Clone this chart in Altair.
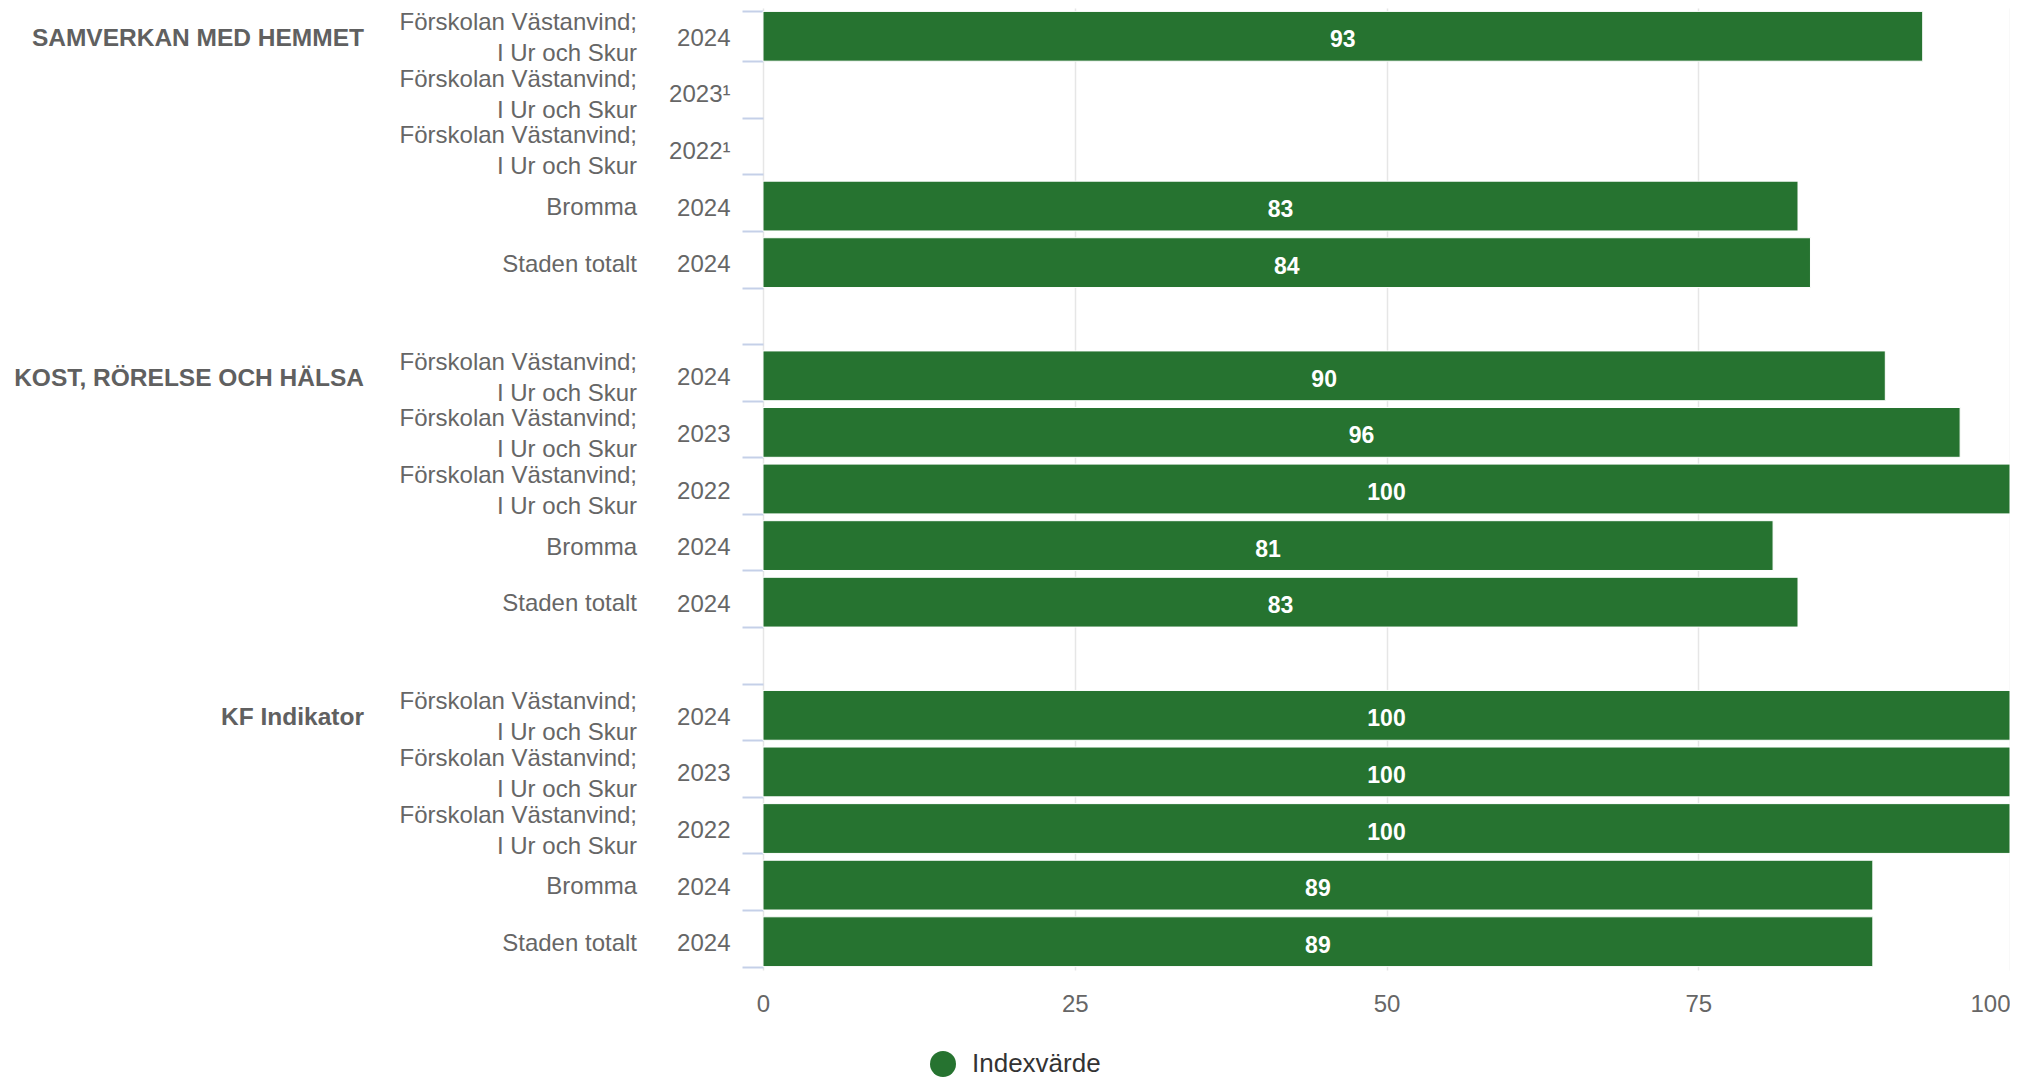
import json
import altair as alt
import pandas as pd

FONT = "Liberation Sans, Arial, Helvetica, sans-serif"

groups = ["SAMVERKAN MED HEMMET", "KOST, RÖRELSE OCH HÄLSA", "KF Indikator"]
names_line1 = ["Förskolan Västanvind;", "Förskolan Västanvind;", "Förskolan Västanvind;", "Bromma", "Staden totalt"]
names_line2 = ["I Ur och Skur", "I Ur och Skur", "I Ur och Skur", "", ""]
years_samverkan = ["2024", "2023¹", "2022¹", "2024", "2024"]
years_kost = ["2024", "2023", "2022", "2024", "2024"]
years_kf = ["2024", "2023", "2022", "2024", "2024"]
values_samverkan = [93, None, None, 83, 84]
values_kost = [90, 96, 100, 81, 83]
values_kf = [100, 100, 100, 89, 89]
x_ticks = [0, 25, 50, 75, 100]
series_name = "Indexvärde"

rows = []
year_labels = []
r = 0
all_years = [years_samverkan, years_kost, years_kf]
all_vals = [values_samverkan, values_kost, values_kf]
for gi, g in enumerate(groups):
    for i in range(len(names_line1)):
        rows.append(dict(row=r, group=g if i == 0 else "", line1=names_line1[i],
                         line2=names_line2[i], year=all_years[gi][i],
                         value=all_vals[gi][i], series=series_name))
        year_labels.append(all_years[gi][i])
        r += 1
    if gi < len(groups) - 1:
        year_labels.append("")
        r += 1
n_rows = r
df = pd.DataFrame(rows)

label_expr = json.dumps(year_labels, ensure_ascii=False) + "[datum.value]"

y_axis = alt.Axis(
    title=None, labelExpr=label_expr, tickBand="extent", tickSize=21,
    tickWidth=2, tickColor="#c5d0e8", domain=False, grid=False,
    labelFontSize=24, labelColor="#666666", labelPadding=12, labelFont=FONT,
    labelOffset=2,
)
y_scale = alt.Scale(domain=list(range(n_rows)), paddingInner=0.12, paddingOuter=0.06)
y_enc = alt.Y("row:O", scale=y_scale, axis=y_axis)

x_scale = alt.Scale(domain=[0, 100], nice=False)
x_axis = alt.Axis(
    values=x_ticks, title=None, grid=True, gridColor="#e6e6e6",
    gridWidth=1.5, domain=False, ticks=False, labelFontSize=24,
    labelColor="#666666", labelPadding=22, labelFont=FONT,
    labelAlign={"expr": "datum.value == 100 ? 'right' : 'center'"},
)

base = alt.Chart(df)

bars = base.mark_bar(stroke="#ffffff", strokeWidth=1).encode(
    x=alt.X("value:Q", scale=x_scale, axis=x_axis),
    y=y_enc,
    color=alt.Color(
        "series:N", scale=alt.Scale(range=["#267330"]),
        legend=alt.Legend(
            title=None, orient="none", legendX=167, legendY=1043,
            symbolType="circle", symbolSize=676, symbolStrokeWidth=0,
            labelFontSize=26, labelColor="#333333", labelFont=FONT,
            labelOffset=16,
        ),
    ),
).transform_filter("isValid(datum.value)")

bar_labels = base.mark_text(
    color="#ffffff", fontWeight="bold", fontSize=23, font=FONT,
    baseline="middle", align="center", dy=4,
).encode(
    x=alt.X("mid:Q", scale=x_scale, axis=x_axis),
    y=y_enc,
    text=alt.Text("value:Q", format="d"),
).transform_filter("isValid(datum.value)").transform_calculate(mid="datum.value / 2")

single_names = base.mark_text(
    align="right", baseline="middle", fontSize=24, font=FONT,
    color="#666666", dy=2,
).encode(
    x=alt.value(-126),
    y=y_enc,
    text="line1:N",
).transform_filter("datum.line2 == ''")

two_line_top = base.mark_text(
    align="right", baseline="middle", fontSize=24, font=FONT,
    color="#666666", dy=-13,
).encode(
    x=alt.value(-126),
    y=y_enc,
    text="line1:N",
).transform_filter("datum.line2 != ''")

two_line_bottom = base.mark_text(
    align="right", baseline="middle", fontSize=24, font=FONT,
    color="#666666", dy=18,
).encode(
    x=alt.value(-126),
    y=y_enc,
    text="line2:N",
).transform_filter("datum.line2 != ''")

group_labels = base.mark_text(
    align="right", baseline="middle", fontSize=24.5, font=FONT,
    fontWeight="bold", color="#606060", dy=3,
).encode(
    x=alt.value(-399),
    y=y_enc,
    text="group:N",
).transform_filter("datum.group != ''")

chart = alt.layer(
    bars, bar_labels, single_names, two_line_top, two_line_bottom, group_labels
).properties(
    width=1247,
    height=962,
    padding={"left": 755, "top": 0, "right": 0, "bottom": 108},
    autosize=alt.AutoSizeParams(type="none"),
).configure_view(stroke=None)

chart.save("out.html", embed_options={"renderer": "svg", "actions": False})
